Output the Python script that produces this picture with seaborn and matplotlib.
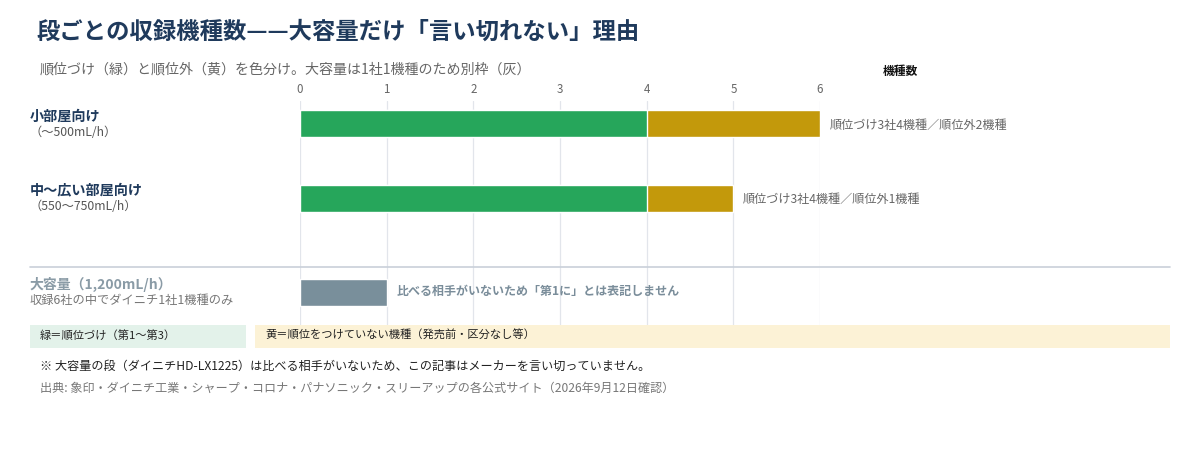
import numpy as np
import matplotlib
matplotlib.use("Agg")
import matplotlib.pyplot as plt
from matplotlib.lines import Line2D
from matplotlib.patches import Rectangle
import seaborn as sns
import pandas as pd

# data
rows = ["小部屋向け", "中〜広い部屋向け"]
row_subs = ["（〜500mL/h）", "（550〜750mL/h）"]
ranked = [4, 4]
unranked = [2, 1]
row_notes = ["順位づけ3社4機種／順位外2機種", "順位づけ3社4機種／順位外1機種"]

large_label = "大容量（1,200mL/h）"
large_sub = "収録6社の中でダイニチ1社1機種のみ"
large_count = [1]
large_note = "比べる相手がいないため「第1に」とは表記しません"

x_ticks = [0, 1, 2, 3, 4, 5, 6]

title = "段ごとの収録機種数——大容量だけ「言い切れない」理由"
subtitle = "順位づけ（緑）と順位外（黄）を色分け。大容量は1社1機種のため別枠（灰）"
x_label = "機種数"
legend_green = "緑＝順位づけ（第1〜第3）"
legend_yellow = "黄＝順位をつけていない機種（発売前・区分なし等）"
footnote = "※ 大容量の段（ダイニチHD-LX1225）は比べる相手がいないため、この記事はメーカーを言い切っていません。"
source = "出典: 象印・ダイニチ工業・シャープ・コロナ・パナソニック・スリーアップの各公式サイト（2026年9月12日確認）"

GREEN = "#26a65b"
YELLOW = "#c3990b"
GREY = "#798f9b"
NAVY = "#1f3a5c"
GRID = "#e2e5eb"

sns.set_theme(style="white")
plt.rcParams["font.family"] = ["Noto Sans CJK JP", "DejaVu Sans"]

W, H = 1200, 460
fig = plt.figure(figsize=(W / 100, H / 100), dpi=100)


def fx(x):
    return x / W


def fy(y):
    return 1 - y / H


df = pd.DataFrame({"段": rows, "順位づけ": ranked, "順位外": unranked})
df["合計"] = df["順位づけ"] + df["順位外"]
df_large = pd.DataFrame({"段": [large_label], "機種数": large_count})

# top axes: two rows
ax = fig.add_axes([fx(300), fy(268), fx(520), 166 / H])
sns.barplot(data=df, y="段", x="合計", color=YELLOW, width=0.365,
            saturation=1, orient="h", ax=ax)
sns.barplot(data=df, y="段", x="順位づけ", color=GREEN, width=0.365,
            saturation=1, orient="h", ax=ax)
ax.set_ylim(1.93, -0.31)

# bottom axes: large capacity row
ax2 = fig.add_axes([fx(300), fy(326), fx(520), 58 / H])
sns.barplot(data=df_large, y="段", x="機種数", color=GREY, width=0.365,
            saturation=1, orient="h", ax=ax2)
ax2.set_ylim(0.446, -0.338)

for a in (ax, ax2):
    a.set_xlim(0, 6)
    a.set_xticks(x_ticks)
    a.grid(axis="x", color=GRID, lw=0.9)
    a.set_axisbelow(True)
    for s in a.spines.values():
        s.set_visible(False)
    a.set_ylabel("")
    a.set_xlabel("")
    a.set_yticks([])
    a.tick_params(length=0)

ax.xaxis.tick_top()
ax.tick_params(axis="x", labelsize=8.3, labelcolor="#666666", pad=4)
ax2.set_xticklabels([])

# bar notes
for i, (tot, note) in enumerate(zip(df["合計"], row_notes)):
    ax.annotate(note, (tot, i), xytext=(7, 0), textcoords="offset points",
                va="center", ha="left", fontsize=8.7, color="#666666")
ax2.annotate(large_note, (large_count[0], 0), xytext=(7, 1.5),
             textcoords="offset points", va="center", ha="left",
             fontsize=8.65, color="#7a8d9a", fontweight="bold")

# titles
fig.text(fx(36), fy(32), title, fontsize=16.8, fontweight="bold",
         color=NAVY, va="center", ha="left")
fig.text(fx(40), fy(70), subtitle, fontsize=10.1, color="#666666",
         va="center", ha="left")
fig.text(fx(900), fy(71), x_label, fontsize=8.5, fontweight="bold",
         color="#111111", va="center", ha="center")

# row labels
label_y = [(117, 132), (190, 207)]
for (ly, sy), name, sub in zip(label_y, rows, row_subs):
    fig.text(fx(30), fy(ly), name, fontsize=10.2, fontweight="bold",
             color=NAVY, va="center", ha="left")
    fig.text(fx(30), fy(sy), sub, fontsize=8.8, color="#555555",
             va="center", ha="left")
fig.text(fx(30), fy(284), large_label, fontsize=10, fontweight="bold",
         color="#8a9ba6", va="center", ha="left")
fig.text(fx(30), fy(300), large_sub, fontsize=8.8, color="#777777",
         va="center", ha="left")

# separator
fig.add_artist(Line2D([fx(30), fx(1170)], [fy(268), fy(268)],
                      color="#c9d0d9", lw=1.2, transform=fig.transFigure))

# legend boxes
fig.add_artist(Rectangle((fx(30), fy(349)), fx(216), 23 / H,
                         facecolor="#e3f2ea", edgecolor="none",
                         transform=fig.transFigure))
fig.add_artist(Rectangle((fx(255), fy(349)), fx(915), 23 / H,
                         facecolor="#fcf2d6", edgecolor="none",
                         transform=fig.transFigure))
fig.text(fx(40), fy(335), legend_green, fontsize=8.1, color="#222222",
         va="center", ha="left")
fig.text(fx(265), fy(335), legend_yellow, fontsize=8.1, color="#222222",
         va="center", ha="left")

# footnotes
fig.text(fx(40), fy(366), footnote, fontsize=8.7, color="#222222",
         va="center", ha="left")
fig.text(fx(40), fy(388), source, fontsize=8.7, color="#777777",
         va="center", ha="left")

fig.savefig("out.png", dpi=100)
